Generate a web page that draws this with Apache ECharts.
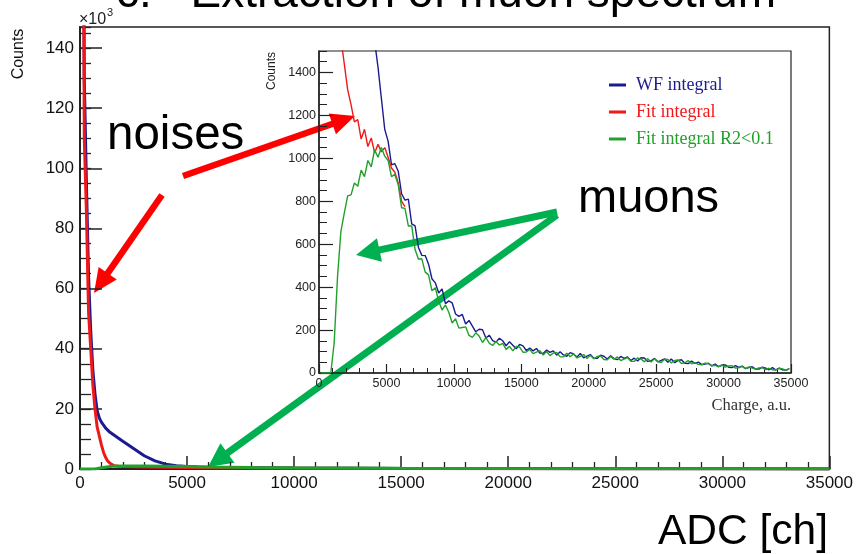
<!DOCTYPE html>
<html>
<head>
<meta charset="utf-8">
<script src="https://cdn.jsdelivr.net/npm/echarts@6/dist/echarts.min.js"></script>
<style>
html,body{margin:0;padding:0;background:#fff;}
#chart{width:856px;height:554px;}
</style>
</head>
<body>
<div id="chart"></div>
<script>
// Main spectrum: ADC channel vs counts (in thousands)
const mainBlueAdc = [0, 100, 200, 300, 400, 500, 600, 700, 800, 900, 1000, 1200, 1400, 1600, 1800, 2000, 2500, 3000, 3500, 4000, 4500, 5000, 5500, 6000, 7000, 8000, 10000, 12500, 15000, 20000, 25000, 30000, 35000];
const mainBlueK   = [400, 300, 130, 95, 64, 46, 33, 25, 19.5, 17, 15.6, 13.6, 12.2, 11.2, 10.2, 9.2, 6.8, 4.4, 2.7, 1.6, 1.1, 0.8, 0.65, 0.55, 0.45, 0.4, 0.3, 0.25, 0.2, 0.15, 0.1, 0.06, 0.03];
const mainRedAdc  = [0, 100, 200, 300, 400, 500, 600, 700, 800, 900, 1000, 1100, 1200, 1300, 1400, 1600, 1800, 2000, 3000, 4000, 5000, 6000, 8000, 10000, 15000, 20000, 25000, 30000, 35000];
const mainRedK    = [400, 280, 110, 85, 52, 40, 28, 20, 14, 11, 8, 5.5, 3.8, 2.6, 1.9, 1.1, 0.9, 0.8, 0.7, 0.6, 0.5, 0.4, 0.3, 0.25, 0.15, 0.1, 0.08, 0.05, 0.03];
const mainGreenAdc = [0, 700, 1000, 1500, 2000, 3000, 4000, 5000, 6000, 8000, 10000, 15000, 20000, 25000, 30000, 35000];
const mainGreenK   = [0, 0, 0.4, 0.9, 1.0, 1.0, 0.95, 0.85, 0.7, 0.5, 0.4, 0.25, 0.15, 0.1, 0.06, 0.03];

// Inset spectrum: charge (a.u.) in 250 a.u. bins, counts per bin
const insetBinWidth = 250;
const insetBlue = [
  9000, 8200, 7100, 6000, 5200, 4500, 3900, 3400, 3000, 2700,
  2400, 2200, 2000, 1850, 1720, 1620, 1545, 1425, 1280, 1135,
  1080, 970, 975, 940, 835, 805, 810, 695, 685, 585,
  548, 547, 507, 439, 420, 373, 392, 323, 336, 327,
  275, 264, 273, 228, 245, 218, 192, 204, 202, 163,
  176, 151, 144, 162, 150, 127, 146, 129, 113, 133,
  126, 105, 116, 103, 114, 93, 91, 107, 96, 103,
  83, 99, 84, 78, 95, 89, 74, 91, 71, 79,
  86, 69, 68, 83, 78, 65, 80, 67, 62, 77,
  68, 75, 58, 69, 56, 71, 70, 54, 57, 68,
  52, 59, 66, 50, 65, 48, 59, 62, 45, 44,
  55, 45, 51, 39, 42, 45, 33, 42, 30, 36,
  38, 27, 25, 34, 26, 32, 21, 25, 29, 18,
  18, 27, 23, 15, 25, 14, 23, 15, 12, 21
];
const insetRed = [
  9000, 7200, 4600, 3100, 2250, 1820, 1560, 1440, 1320, 1250,
  1170, 1180, 1090, 1135, 1055, 1095, 1025, 1065, 1030, 1050,
  1005, 955, 935, 885, 800, 775
];
const insetGreen = [
  0, 0, 0, 0, 140, 450, 660, 745, 825, 830,
  885, 870, 945, 915, 990, 960, 1040, 1005, 1050, 1010,
  990, 915, 925, 878, 770, 767, 685, 685, 575, 530,
  532, 470, 457, 383, 397, 334, 293, 317, 283, 233,
  253, 209, 212, 215, 175, 166, 187, 172, 142, 165,
  139, 128, 147, 130, 138, 110, 124, 103, 124, 121,
  97, 98, 110, 90, 97, 104, 84, 100, 81, 93,
  96, 76, 75, 92, 76, 89, 70, 78, 86, 67,
  83, 66, 77, 80, 63, 62, 77, 64, 75, 58,
  65, 72, 55, 54, 70, 65, 52, 67, 51, 66,
  53, 49, 64, 63, 47, 58, 61, 44, 47, 58,
  43, 48, 40, 38, 46, 44, 34, 36, 29, 38,
  27, 33, 34, 23, 24, 31, 20, 29, 23, 18,
  24, 25, 16, 22, 15, 14, 22, 19, 12, 20
];

const seriesNames = ['WF integral', 'Fit integral', 'Fit integral R2<0.1'];
const BLUE = '#1b1b8f', RED = '#f01818', GREEN = '#22a02c';
const ARROW_RED = '#ff0000', ARROW_GREEN = '#00b050';
const AXIS = '#222';

const pairs = (xs, ys) => xs.map((x, i) => [x, ys[i]]);
const binned = vals => vals.map((v, i) => [(i + 0.5) * insetBinWidth, v]);
const plain = v => String(v);

function mainLine(name, data, color) {
  return { name, type: 'line', xAxisIndex: 0, yAxisIndex: 0, data, showSymbol: false, symbol: 'none',
           lineStyle: { color, width: 3 }, itemStyle: { color }, silent: true };
}
function insetHist(name, data, color) {
  return { name, type: 'line', xAxisIndex: 1, yAxisIndex: 2, data, showSymbol: false, symbol: 'none',
           lineStyle: { color, width: 1.4 }, itemStyle: { color }, silent: true };
}

// Arrow annotation: shaft plus triangular head
function arrow(sx, sy, tx, ty, color, w, headLen, headHalf) {
  const dx = tx - sx, dy = ty - sy, L = Math.hypot(dx, dy);
  const ux = dx / L, uy = dy / L, px = -uy, py = ux;
  const bx = tx - ux * headLen, by = ty - uy * headLen;
  return {
    type: 'group', z: 100,
    children: [
      { type: 'line', shape: { x1: sx, y1: sy, x2: bx + ux * 2, y2: by + uy * 2 }, style: { stroke: color, lineWidth: w } },
      { type: 'polygon', shape: { points: [[tx, ty], [bx + px * headHalf, by + py * headHalf], [bx - px * headHalf, by - py * headHalf]] },
        style: { fill: color } }
    ]
  };
}

const sans = '"Liberation Sans", Arial, Helvetica, sans-serif';
const serif = '"Liberation Serif", "Times New Roman", serif';

const chart = echarts.init(document.getElementById('chart'), null, { renderer: 'canvas' });
chart.setOption({
  animation: false,
  backgroundColor: '#fff',
  grid: [
    { left: 80, top: 27, width: 751, height: 442, show: true, borderColor: AXIS, borderWidth: 1.5, backgroundColor: '#fff' },
    { left: 319, top: 51, width: 472, height: 322, show: true, borderColor: AXIS, borderWidth: 1.2, backgroundColor: '#fff' }
  ],
  xAxis: [
    { gridIndex: 0, type: 'value', min: 0, max: 35000, interval: 5000,
      axisLine: { lineStyle: { color: AXIS, width: 2 } },
      axisTick: { inside: true, length: 13, lineStyle: { color: AXIS, width: 1.5 } },
      minorTick: { show: true, splitNumber: 5, length: 7, lineStyle: { color: AXIS, width: 1.3 } },
      axisLabel: { margin: 6, fontSize: 17, color: '#111', fontFamily: sans, formatter: plain },
      splitLine: { show: false } },
    { gridIndex: 1, type: 'value', min: 0, max: 35000, interval: 5000,
      axisLine: { lineStyle: { color: AXIS, width: 1.5 } },
      axisTick: { inside: true, length: 9, lineStyle: { color: AXIS, width: 1.2 } },
      minorTick: { show: true, splitNumber: 5, length: 5, lineStyle: { color: AXIS, width: 1 } },
      axisLabel: { margin: 4, fontSize: 12.5, color: '#222', fontFamily: sans, formatter: plain },
      splitLine: { show: false } }
  ],
  yAxis: [
    { gridIndex: 0, type: 'value', position: 'left', min: 0, max: 147, interval: 20,
      axisLine: { show: true, lineStyle: { color: AXIS, width: 2 } },
      axisTick: { show: true, inside: true, length: 22, lineStyle: { color: AXIS, width: 1.5 } },
      axisLabel: { margin: 6, fontSize: 17, color: '#111', fontFamily: sans, showMaxLabel: false, formatter: plain },
      splitLine: { show: false } },
    { gridIndex: 0, type: 'value', position: 'left', min: 0, max: 147, interval: 5,
      axisLine: { show: false },
      axisTick: { show: true, inside: true, length: 11, lineStyle: { color: AXIS, width: 1.3 } },
      axisLabel: { show: false }, splitLine: { show: false } },
    { gridIndex: 1, type: 'value', position: 'left', min: 0, max: 1500, interval: 200,
      axisLine: { show: true, lineStyle: { color: AXIS, width: 1.5 } },
      axisTick: { show: true, inside: true, length: 14, lineStyle: { color: AXIS, width: 1.2 } },
      axisLabel: { margin: 3, fontSize: 12.5, color: '#222', fontFamily: sans, showMaxLabel: false, formatter: plain },
      splitLine: { show: false } },
    { gridIndex: 1, type: 'value', position: 'left', min: 0, max: 1500, interval: 50,
      axisLine: { show: false },
      axisTick: { show: true, inside: true, length: 8, lineStyle: { color: AXIS, width: 1 } },
      axisLabel: { show: false }, splitLine: { show: false } }
  ],
  legend: {
    left: 604, top: 71, orient: 'vertical', icon: 'rect', itemWidth: 17, itemHeight: 3, itemGap: 9,
    selectedMode: false,
    textStyle: { fontFamily: serif, fontSize: 18, padding: [0, 0, 0, 5] },
    data: [
      { name: seriesNames[0], textStyle: { color: BLUE } },
      { name: seriesNames[1], textStyle: { color: RED } },
      { name: seriesNames[2], textStyle: { color: GREEN } }
    ]
  },
  series: [
    mainLine(seriesNames[0], pairs(mainBlueAdc, mainBlueK), BLUE),
    mainLine(seriesNames[1], pairs(mainRedAdc, mainRedK), RED),
    mainLine(seriesNames[2], pairs(mainGreenAdc, mainGreenK), GREEN),
    insetHist(seriesNames[0], binned(insetBlue), BLUE),
    insetHist(seriesNames[1], binned(insetRed), RED),
    insetHist(seriesNames[2], binned(insetGreen), GREEN)
  ],
  graphic: [
    { type: 'text', x: 116, y: -6, z: 50, style: { text: 'c.', font: '46px ' + sans, fill: '#000', textAlign: 'left', textVerticalAlign: 'middle' } },
    { type: 'text', x: 776, y: -6, z: 50, style: { text: 'Extraction of muon spectrum', font: '46px ' + sans, fill: '#000', textAlign: 'right', textVerticalAlign: 'middle' } },
    { type: 'text', x: 79, y: 20, z: 50, style: { text: '\u00d710', font: '16px ' + sans, fill: '#222', textAlign: 'left', textVerticalAlign: 'middle' } },
    { type: 'text', x: 107, y: 13, z: 50, style: { text: '3', font: '11px ' + sans, fill: '#222', textAlign: 'left', textVerticalAlign: 'middle' } },
    { type: 'text', x: 19, y: 54, rotation: Math.PI / 2, z: 50, style: { text: 'Counts', font: '16px ' + sans, fill: '#111', textAlign: 'center', textVerticalAlign: 'middle' } },
    { type: 'text', x: 272, y: 71, rotation: Math.PI / 2, z: 50, style: { text: 'Counts', font: '12px ' + sans, fill: '#222', textAlign: 'center', textVerticalAlign: 'middle' } },
    { type: 'text', x: 791, y: 406, z: 50, style: { text: 'Charge, a.u.', font: '16.5px ' + serif, fill: '#333', textAlign: 'right', textVerticalAlign: 'middle' } },
    { type: 'text', x: 107, y: 136, z: 50, style: { text: 'noises', font: '47.5px ' + sans, fill: '#000', textAlign: 'left', textVerticalAlign: 'middle' } },
    { type: 'text', x: 578, y: 199, z: 50, style: { text: 'muons', font: '47px ' + sans, fill: '#000', textAlign: 'left', textVerticalAlign: 'middle' } },
    { type: 'text', x: 828, y: 532, z: 50, style: { text: 'ADC [ch]', font: '42.5px ' + sans, fill: '#000', textAlign: 'right', textVerticalAlign: 'middle' } },
    arrow(183, 176, 355, 116, ARROW_RED, 6.5, 24, 11),
    arrow(162, 195, 94, 293, ARROW_RED, 6.5, 24, 11),
    arrow(557, 212, 356, 255, ARROW_GREEN, 7, 24, 12),
    arrow(557, 215, 208, 467, ARROW_GREEN, 7, 24, 12)
  ]
});
</script>
</body>
</html>
